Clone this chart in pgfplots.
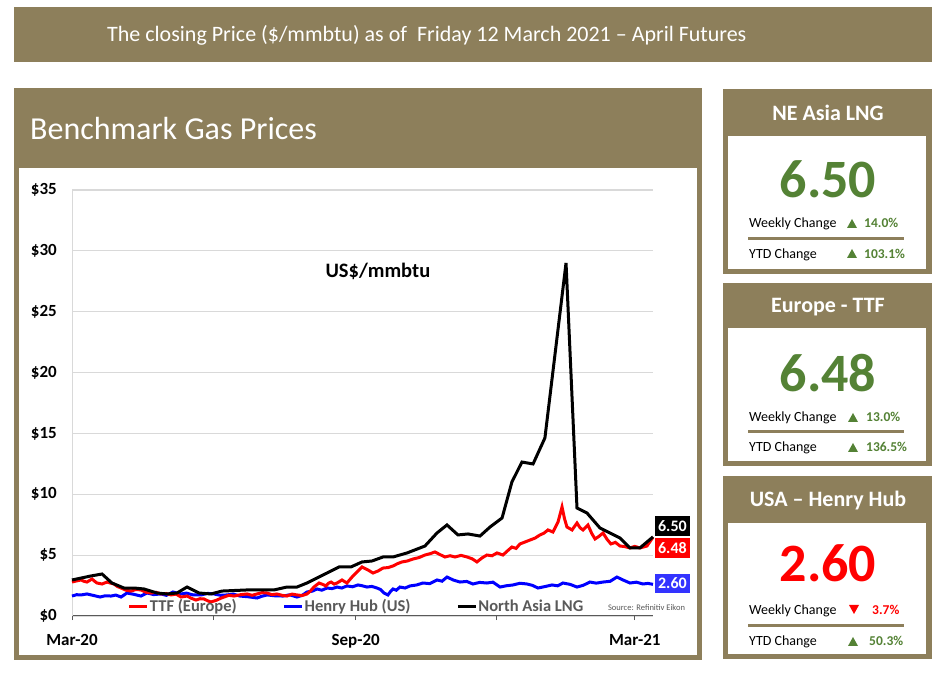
\documentclass[border=0pt]{standalone}
\usepackage{fontspec}
\setmainfont{Carlito}
\usepackage{pgfplots}
\pgfplotsset{compat=1.18}
\definecolor{brn}{RGB}{141,127,91}
\definecolor{grn}{RGB}{84,130,53}
\definecolor{lgray}{RGB}{217,217,217}
\definecolor{dgray}{RGB}{89,89,89}
\definecolor{lblblue}{RGB}{51,51,255}
\newcommand{\fs}[1]{\fontsize{#1}{#1}\selectfont}
\begin{document}
\begin{tikzpicture}
\begin{scope}[x=1pt,y=1pt]
\useasboundingbox (0,0) rectangle (947,674);
\fill[white] (0,0) rectangle (947,674);
% top banner
\fill[brn] (14,667) rectangle (932,612);
\node[anchor=base west, inner sep=0pt, text=white, font=\fs{22}] at (107,632) {The closing Price (\$/mmbtu) as of\ \ Friday 12 March 2021 – April Futures};
% main panel
\fill[brn] (14,586) rectangle (702,14);
\fill[white] (19,506) rectangle (697,19);
\node[anchor=base west, inner sep=0pt, text=white, font=\fs{32}] at (30,534) {Benchmark Gas Prices};
% box 1
\fill[brn] (723,585) rectangle (932,400);
\fill[white] (728,538) rectangle (926,405);
\node[anchor=base, inner sep=0pt, text=white, font=\fs{22}\bfseries] at (828,553) {NE Asia LNG};
\node[anchor=base, inner sep=0pt, text=grn, font=\fs{54}\bfseries] at (828,476) {6.50};
\node[anchor=base west, inner sep=0pt, font=\fs{14}] at (749,446) {Weekly Change};
\fill[grn] (847,446) -- (857,446) -- (852,455) -- cycle;
\node[anchor=base west, inner sep=0pt, text=grn, font=\fs{13.5}\bfseries] at (864,446) {14.0\%};
\draw[brn, line width=3pt] (748,435) -- (904,435);
\node[anchor=base west, inner sep=0pt, font=\fs{14}] at (749,415) {YTD Change};
\fill[grn] (847,416) -- (857,416) -- (852,425) -- cycle;
\node[anchor=base west, inner sep=0pt, text=grn, font=\fs{13.5}\bfseries] at (864,415) {103.1\%};
% box 2
\fill[brn] (723,391) rectangle (932,208);
\fill[white] (728,346) rectangle (926,213);
\node[anchor=base, inner sep=0pt, text=white, font=\fs{22}\bfseries] at (828,361) {Europe - TTF};
\node[anchor=base, inner sep=0pt, text=grn, font=\fs{54}\bfseries] at (828,282) {6.48};
\node[anchor=base west, inner sep=0pt, font=\fs{14}] at (749,252) {Weekly Change};
\fill[grn] (848,252) -- (858,252) -- (853,261) -- cycle;
\node[anchor=base west, inner sep=0pt, text=grn, font=\fs{13.5}\bfseries] at (866,252) {13.0\%};
\draw[brn, line width=3pt] (748,242) -- (904,242);
\node[anchor=base west, inner sep=0pt, font=\fs{14}] at (749,222) {YTD Change};
\fill[grn] (848,222) -- (858,222) -- (853,231) -- cycle;
\node[anchor=base west, inner sep=0pt, text=grn, font=\fs{13.5}\bfseries] at (866,222) {136.5\%};
% box 3
\fill[brn] (723,198) rectangle (932,15);
\fill[white] (728,151) rectangle (926,20);
\node[anchor=base, inner sep=0pt, text=white, font=\fs{22}\bfseries] at (828,167) {USA – Henry Hub};
\node[anchor=base, inner sep=0pt, text=red, font=\fs{54}\bfseries] at (828,92) {2.60};
\node[anchor=base west, inner sep=0pt, font=\fs{14}] at (749,59) {Weekly Change};
\fill[red] (849,69) -- (859,69) -- (854,60) -- cycle;
\node[anchor=base west, inner sep=0pt, text=red, font=\fs{13.5}\bfseries] at (872,59) {3.7\%};
\draw[brn, line width=3pt] (748,48) -- (904,48);
\node[anchor=base west, inner sep=0pt, font=\fs{14}] at (749,28) {YTD Change};
\fill[grn] (848,28) -- (858,28) -- (853,37) -- cycle;
\node[anchor=base west, inner sep=0pt, text=grn, font=\fs{13.5}\bfseries] at (869,28) {50.3\%};
\end{scope}
\begin{axis}[
  at={(72pt,58pt)}, anchor=south west,
  scale only axis, width=581pt, height=426pt,
  xmin=0, xmax=376.8, ymin=0, ymax=35,
  clip=false,
  axis x line=bottom, axis y line=left,
  axis line style={-},
  x axis line style={dgray, line width=1pt},
  y axis line style={lgray, line width=1pt},
  xtick={0,92,184,275,365}, xticklabels={Mar-20,,Sep-20,,Mar-21},
  xtick style={dgray, line width=0.8pt},
  tick align=outside, major tick length=4pt,
  ytick={0,5,...,35}, yticklabels={\$0,\$5,\$10,\$15,\$20,\$25,\$30,\$35},
  ytick style={draw=none},
  ymajorgrids, grid style={lgray, line width=1.2pt},
  ticklabel style={font=\fs{17}\bfseries, text=black},
  yticklabel style={anchor=east, inner sep=0pt, xshift=-11pt},
  xticklabel style={anchor=base, inner sep=0pt, yshift=-25pt},
  legend style={at={(0.489,0.023)}, anchor=center, draw=none, fill=none,
    font=\fs{16.5}\bfseries, text=dgray, inner sep=0pt,
    nodes={inner sep=1pt},
    /tikz/every even column/.append style={column sep=45pt}},
  legend columns=-1,
  legend image code/.code={\draw[#1, line width=3pt] (0pt,0pt) -- (18pt,0pt);},
]
\addlegendimage{red}\addlegendentry{TTF (Europe)}
\addlegendimage{blue}\addlegendentry{Henry Hub (US)}
\addlegendimage{black}\addlegendentry{North Asia LNG}
% Henry Hub
\addplot[blue, line width=3pt, forget plot] table {
0 1.64
3.0 1.75
5.8 1.73
9.7 1.81
13.5 1.70
18.2 1.56
21.5 1.66
25.3 1.64
28.4 1.72
31.8 1.56
35.7 1.89
40.1 1.78
44.7 1.64
48.6 1.89
53.0 1.76
57.7 1.81
61.2 1.70
65.5 1.97
70.7 1.81
74.2 1.88
78.5 1.73
83.7 1.73
88.0 1.86
92.1 1.81
96.3 1.70
100.5 1.73
104.5 1.80
108.9 1.64
114.2 1.58
120.0 1.48
123.1 1.62
126.5 1.73
131.6 1.66
136.8 1.64
141.2 1.74
145.9 1.56
149.3 1.70
152.4 1.97
156.0 2.05
158.9 2.22
162.0 2.12
165.4 2.30
168.7 2.25
171.9 2.38
175.0 2.30
178.3 2.47
182.0 2.40
185.5 2.55
188.0 2.49
191.3 2.38
194.5 2.43
197.8 2.30
200.0 2.18
202.3 1.89
204.9 1.73
206.5 2.00
208.2 2.22
210.3 2.12
212.7 2.38
216.0 2.30
219.2 2.47
223.5 2.55
227.6 2.71
232.0 2.66
236.7 2.96
240.0 2.86
243.2 3.20
247.4 2.95
251.6 2.79
256.0 2.84
260.0 2.63
264.4 2.76
269.1 2.71
273.0 2.78
277.6 2.38
281.5 2.48
286.0 2.55
290.5 2.69
295.1 2.63
298.5 2.52
302.2 2.30
306.8 2.42
311.3 2.55
315.0 2.48
318.4 2.71
323.0 2.60
327.5 2.38
331.5 2.52
335.9 2.79
340.0 2.70
344.4 2.79
349.0 2.85
353.4 3.20
357.5 2.95
361.9 2.71
366.0 2.78
370.3 2.63
373.5 2.68
376.8 2.60
};
% TTF
\addplot[red, line width=3pt, forget plot] table {
0 2.79
2.9 2.88
5.8 2.96
7.8 2.85
9.7 2.79
11.4 2.92
13.0 3.04
14.6 2.86
16.2 2.71
19.5 2.63
22.7 2.79
25.0 2.70
27.2 2.63
29.5 2.42
31.8 2.30
35.0 2.12
38.3 2.05
41.5 2.18
44.7 2.14
48.0 1.95
51.2 1.89
54.5 1.95
57.7 1.81
61.0 1.85
64.2 1.73
67.5 1.80
70.7 1.56
74.6 1.64
77.5 1.45
80.4 1.31
83.0 1.42
85.6 1.40
88.0 1.25
90.1 1.15
94.0 1.31
96.3 1.45
98.6 1.56
101.8 1.70
105.1 1.64
109.3 1.75
113.5 1.81
116.8 1.70
120.0 1.81
123.3 1.92
126.5 1.89
129.7 1.75
132.9 1.81
136.2 1.70
139.4 1.64
142.7 1.80
145.9 1.73
149.2 1.68
152.4 1.81
154.6 2.05
156.9 2.38
160.2 2.71
162.5 2.60
164.7 2.47
166.4 2.70
168.0 2.79
170.0 2.62
171.9 2.71
175.1 2.96
178.3 2.71
181.6 3.20
184.8 3.62
188.1 4.03
190.0 3.90
192.0 3.78
195.2 3.53
198.5 3.70
201.7 3.94
205.0 3.98
208.2 4.11
211.1 4.30
214.0 4.44
217.5 4.52
221.1 4.68
225.0 4.80
228.9 5.01
232.2 5.12
235.4 5.26
238.6 5.05
241.9 4.85
245.2 4.95
248.4 4.85
252.3 4.98
256.2 4.85
259.5 4.70
262.6 4.44
266.0 4.78
269.1 5.01
272.4 4.95
275.6 5.18
279.5 5.01
282.4 5.35
285.3 5.67
288.0 5.55
290.5 5.92
293.8 6.08
297.0 6.24
300.3 6.40
303.5 6.66
306.0 6.80
308.7 7.07
311.9 6.90
315.2 7.72
317.8 8.96
319.4 8.00
321.0 7.31
324.3 7.07
327.5 7.64
329.5 7.25
331.4 7.07
334.6 7.48
337.0 6.80
339.2 6.33
341.8 6.55
344.4 6.82
347.0 6.30
349.5 5.92
352.4 6.05
355.4 5.75
358.6 5.70
361.9 5.59
365.0 5.72
368.3 5.59
372.9 5.75
376.8 6.48
};
% North Asia LNG
\addplot[black, line width=3pt, forget plot] table {
0 2.96
12.3 3.29
19.5 3.45
25.9 2.71
33.7 2.30
40.2 2.30
46.7 2.22
55.1 1.89
61.6 1.81
68.1 1.89
74.6 2.38
82.4 1.89
90.1 1.81
97.3 2.05
113.5 2.14
131.0 2.14
139.4 2.38
145.9 2.38
152.4 2.71
158.9 3.12
165.4 3.53
173.2 4.03
180.9 4.03
188.1 4.44
194.6 4.52
201.7 4.85
208.2 4.85
217.3 5.18
228.9 5.75
236.7 6.82
243.2 7.48
250.3 6.66
256.8 6.74
264.6 6.57
271.1 7.31
278.9 8.05
285.3 11.01
291.8 12.65
299.0 12.49
306.7 14.63
320.4 29.01
327.5 8.87
334.0 8.46
342.4 7.23
348.9 6.82
355.4 6.41
361.9 5.59
368.3 5.59
376.8 6.50
};
\node[fill=black, text=white, font=\fs{16}\bfseries, minimum width=35pt, minimum height=20pt, inner sep=0pt] at (axis cs:389.4,7.39) {6.50};
\node[fill=red, text=white, font=\fs{16}\bfseries, minimum width=35pt, minimum height=20pt, inner sep=0pt] at (axis cs:389.4,5.55) {6.48};
\node[fill=lblblue, text=white, font=\fs{16}\bfseries, minimum width=35pt, minimum height=19pt, inner sep=0pt] at (axis cs:389.4,2.67) {2.60};
\node[text=dgray, font=\fs{8.5}, inner sep=0pt] at (axis cs:372.6,0.66) {Source: Refinitiv Eikon};
\node[text=black, font=\fs{20.5}\bfseries, inner sep=0pt] at (axis cs:198.4,28.35) {US\$/mmbtu};
\end{axis}
\end{tikzpicture}
\end{document}
